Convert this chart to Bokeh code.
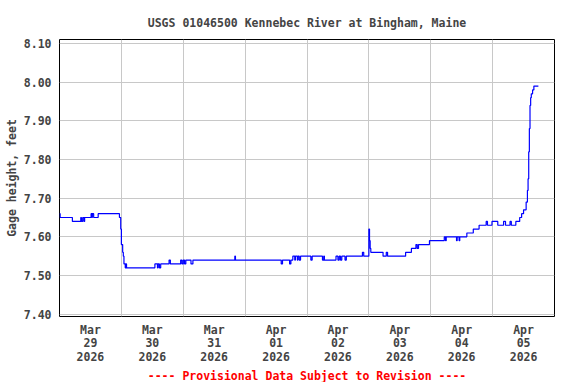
import pandas as pd
from bokeh.plotting import figure
from bokeh.models import Range1d, FixedTicker, Title, PrintfTickFormatter
from bokeh.embed import file_html
from bokeh.resources import INLINE

START = "2026-03-29 00:00"

# hours since START, gage height (ft) -- step values (15-min data)
hours = [0.0, 0.25, 5.0, 8.25, 8.5, 9.0, 9.5, 9.75, 12.25, 12.5, 12.75, 13.25, 15.0,
         23.25, 23.75, 24.0, 24.5, 24.75, 25.0, 25.5, 25.75, 26.0,
         37.0, 38.0, 38.25, 38.75, 39.25, 42.5, 43.0, 47.0, 47.5, 48.0, 48.5, 49.0,
         51.0, 51.75, 68.0, 68.25, 86.0, 86.5, 89.25, 89.75, 90.5, 91.25, 91.5,
         92.25, 92.5, 93.0, 93.5, 97.5, 98.0, 102.0, 102.5, 102.75, 107.25, 108.0,
         108.5, 109.0, 109.5, 110.75, 111.25, 117.5, 118.0, 120.0, 120.25, 120.5,
         120.75, 125.5, 126.75, 127.25, 134.25, 136.5, 138.25, 138.75, 139.25,
         143.5, 149.25, 149.75, 150.0, 154.0, 154.25, 155.0, 155.25, 158.0, 160.5,
         162.75, 165.5, 166.0, 167.75, 170.0, 172.25, 173.0, 174.75, 175.25, 177.0,
         178.5, 179.25, 180.0, 181.0, 181.5, 181.75, 182.0, 182.25, 182.5, 182.75,
         183.0, 183.5, 184.0, 185.75]
stage = [7.66, 7.65, 7.64, 7.65, 7.64, 7.65, 7.64, 7.65, 7.66, 7.65, 7.66, 7.65, 7.66,
         7.65, 7.62, 7.58, 7.56, 7.55, 7.53, 7.52, 7.53, 7.52,
         7.53, 7.52, 7.53, 7.52, 7.53, 7.54, 7.53, 7.54, 7.53, 7.54, 7.53, 7.54,
         7.53, 7.54, 7.55, 7.54, 7.53, 7.54, 7.53, 7.54, 7.55, 7.54, 7.55,
         7.54, 7.55, 7.54, 7.55, 7.54, 7.55, 7.54, 7.55, 7.54, 7.55, 7.54,
         7.55, 7.54, 7.55, 7.54, 7.55, 7.56, 7.55, 7.62, 7.59, 7.57,
         7.56, 7.55, 7.56, 7.55, 7.56, 7.57, 7.58, 7.57, 7.58,
         7.59, 7.60, 7.59, 7.60, 7.59, 7.60, 7.59, 7.60, 7.61, 7.62,
         7.63, 7.64, 7.63, 7.64, 7.63, 7.64, 7.63, 7.64, 7.63, 7.64,
         7.65, 7.66, 7.67, 7.69, 7.72, 7.75, 7.82, 7.88, 7.94, 7.96,
         7.97, 7.98, 7.99, 7.99]

day_labels = ["Mar\n29\n2026", "Mar\n30\n2026", "Mar\n31\n2026", "Apr\n01\n2026",
              "Apr\n02\n2026", "Apr\n03\n2026", "Apr\n04\n2026", "Apr\n05\n2026"]
y_ticks = [7.40, 7.50, 7.60, 7.70, 7.80, 7.90, 8.00, 8.10]

TITLE = "USGS 01046500 Kennebec River at Bingham, Maine"
NOTE = "---- Provisional Data Subject to Revision ----"
FONT = "DejaVu Sans Mono"
FS = "11.5px"

t0 = pd.Timestamp(START)
times = [t0 + pd.Timedelta(hours=h) for h in hours]

def ms(ts):
    return float(ts.value // 10**6)

noon_ticks = [ms(t0 + pd.Timedelta(hours=12 + 24 * i)) for i in range(len(day_labels))]
midnights = [ms(t0 + pd.Timedelta(days=i)) for i in range(1, 8)]

p = figure(frame_width=495, frame_height=277, x_axis_type="datetime",
           output_backend="svg", toolbar_location=None,
           x_range=Range1d(t0, t0 + pd.Timedelta(days=8)),
           y_range=Range1d(7.394, 8.1104),
           min_border_left=59, min_border_right=14,
           min_border_top=39, min_border_bottom=0)

p.title.text = TITLE
p.title.align = "center"
p.title.text_font = FONT
p.title.text_font_style = "bold"
p.title.text_font_size = FS
p.title.standoff = 20

p.step(times, stage, mode="after", line_color="#0000ff", line_width=1.2)

p.outline_line_color = "black"
p.outline_line_width = 1

# x axis
xa = p.xaxis[0]
xa.ticker = FixedTicker(ticks=noon_ticks)
xa.major_label_overrides = {t: lab for t, lab in zip(noon_ticks, day_labels)}
xa.major_tick_line_color = None
xa.major_tick_out = 0
xa.major_tick_in = 0
xa.minor_tick_line_color = None
xa.minor_tick_out = 0
xa.axis_line_color = None
xa.major_label_text_font = FONT
xa.major_label_text_font_style = "bold"
xa.major_label_text_font_size = FS
xa.major_label_text_line_height = 0.97
xa.major_label_standoff = 6

# y axis
ya = p.yaxis[0]
ya.ticker = FixedTicker(ticks=y_ticks)
ya.formatter = PrintfTickFormatter(format="%.2f")
ya.major_tick_line_color = None
ya.major_tick_out = 0
ya.major_tick_in = 0
ya.minor_tick_line_color = None
ya.minor_tick_out = 0
ya.axis_line_color = None
ya.major_label_text_font = FONT
ya.major_label_text_font_style = "bold"
ya.major_label_text_font_size = FS
ya.major_label_standoff = 8
ya.axis_label = "Gage height, feet"
ya.axis_label_text_font = FONT
ya.axis_label_text_font_style = "bold"
ya.axis_label_text_font_size = FS
ya.axis_label_standoff = 2

p.xgrid.ticker = FixedTicker(ticks=midnights)
p.xgrid.grid_line_color = "#c8c8c8"
p.ygrid.grid_line_color = "#c8c8c8"
p.xgrid.grid_line_width = 1
p.ygrid.grid_line_width = 1

note = Title(text=NOTE, align="center", text_color="red", text_font=FONT,
             text_font_style="bold", text_font_size=FS, standoff=0)
p.add_layout(note, "below")

open("out.html", "w").write(file_html(p, INLINE))
